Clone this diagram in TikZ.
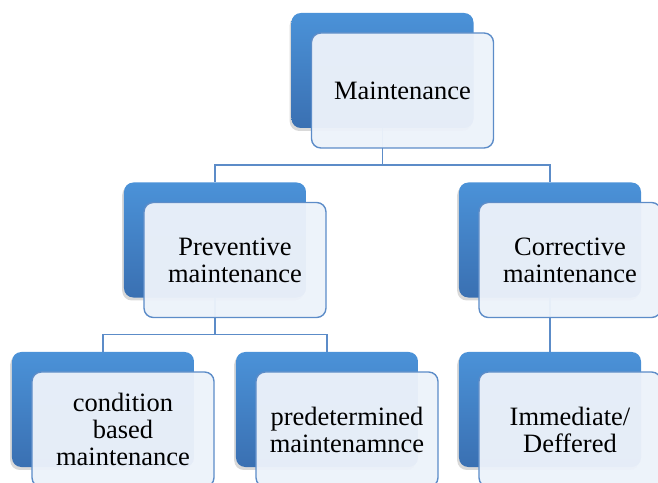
\documentclass[tikz,border=0pt]{standalone}
\usepackage{fontspec}
\setmainfont{Liberation Serif}
\usetikzlibrary{positioning,shadows}

\definecolor{boxtop}{RGB}{75,146,216}
\definecolor{boxbot}{RGB}{58,112,178}
\definecolor{frontfill}{RGB}{236,242,250}
\definecolor{edgeblue}{RGB}{92,140,200}

\tikzset{
  back/.style={rectangle, rounded corners=8pt, inner sep=0pt,
    minimum width=5.46cm, minimum height=3.45cm,
    top color=boxtop, bottom color=boxbot,
    drop shadow={shadow xshift=-1.5pt, shadow yshift=-2.5pt, opacity=0.3}},
  front/.style={rectangle, rounded corners=8pt, inner sep=2pt,
    minimum width=5.46cm, minimum height=3.45cm,
    draw=edgeblue, line width=1.2pt, fill=frontfill, fill opacity=0.96,
    text opacity=1, align=center,
    font=\fontsize{22.6}{23}\selectfont},
  link/.style={draw=edgeblue, line width=1.3pt}
}

\begin{document}
\begin{tikzpicture}[x=0.03cm,y=-0.03cm]
	\useasboundingbox (0,0) rectangle (658,483);
	\clip (0,0) rectangle (658,483);
	% blue boxes
	\node [back] (main) at (382.5,70.5) {};
	\node [back] (prev) at (215,240) {};
	\node [back] (corr) at (550,240) {};
	\node [back] (cbm) at (103,409.5) {};
	\node [back] (pdm) at (327,409.5) {};
	\node [back] (imd) at (550,409.5) {};
	% connectors
	\draw [link] (main.south) -- ++(0,37) -| (prev.north);
	\draw [link] (main.south) ++(0,37) -| (corr.north);
	\draw [link] (prev.south) -- ++(0,37) -| (cbm.north);
	\draw [link] (prev.south) ++(0,37) -| (pdm.north);
	\draw [link] (corr.south) -- (imd.north);
	% front boxes
	\node [front] (mainf) at ([shift={(20,20)}]main) {Maintenance};
	\node [front] (prevf) at ([shift={(20,20)}]prev) {Preventive\\maintenance};
	\node [front] (corrf) at ([shift={(20,20)}]corr) {Corrective\\maintenance};
	\node [front] (cbmf) at ([shift={(20,20)}]cbm) {condition\\based\\maintenance};
	\node [front] (pdmf) at ([shift={(20,20)}]pdm) {predetermined\\maintenamnce};
	\node [front] (imdf) at ([shift={(20,20)}]imd) {Immediate/\\Deffered};
\end{tikzpicture}
\end{document}
